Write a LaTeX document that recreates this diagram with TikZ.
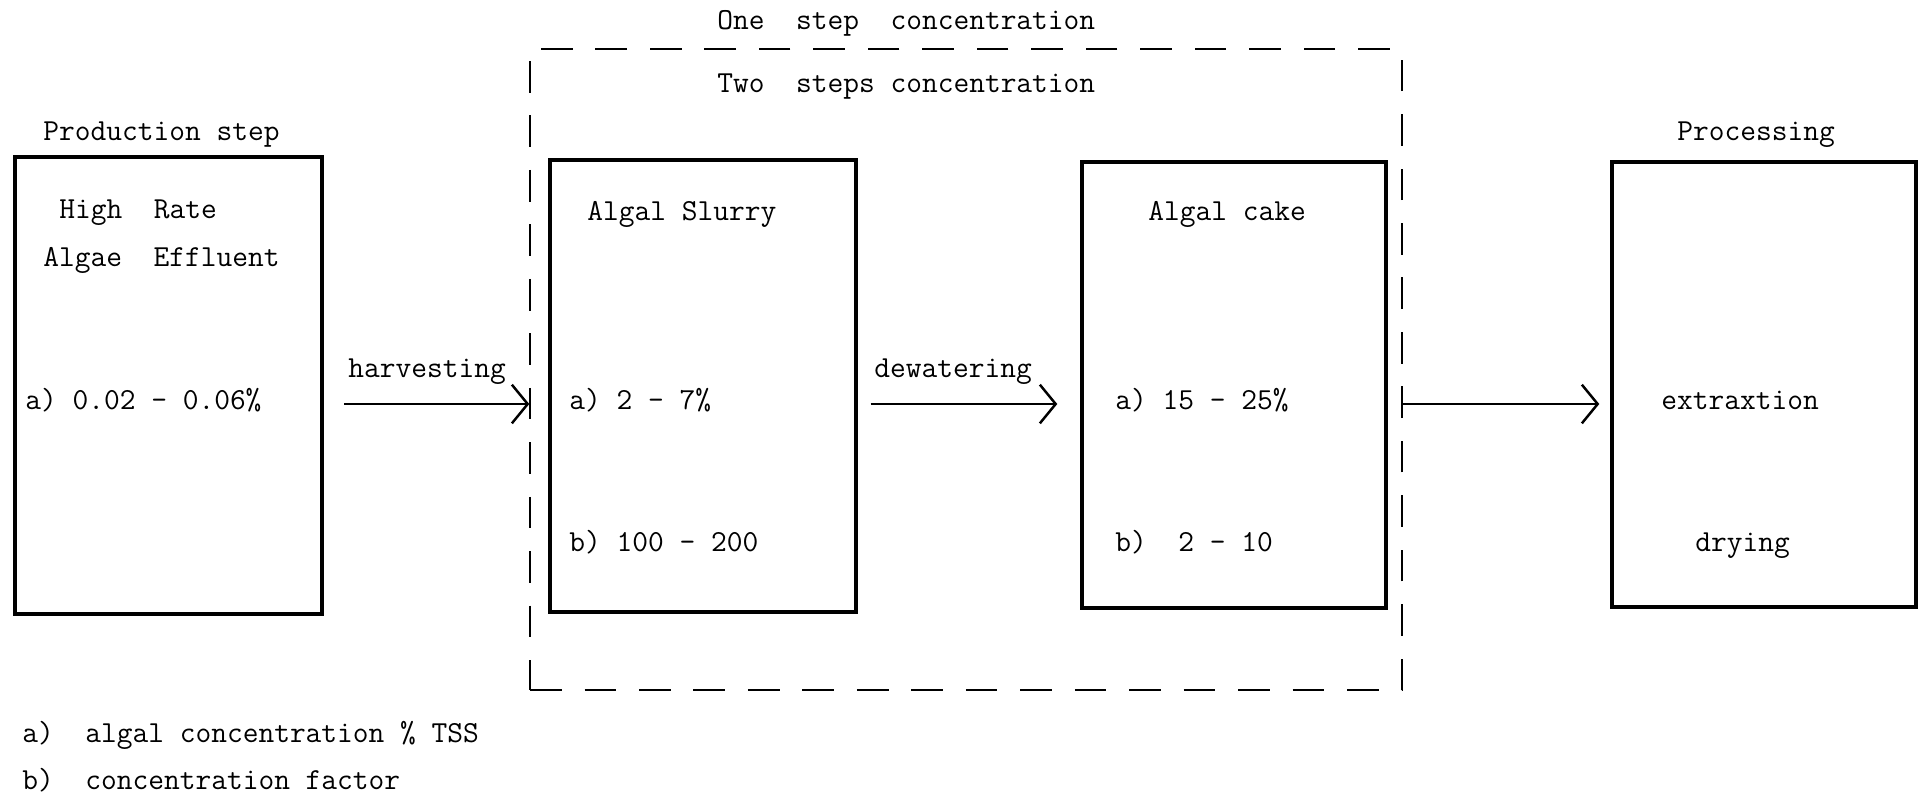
\documentclass[tikz,border=0pt]{standalone}
\usetikzlibrary{arrows.meta}
\begin{document}
\begin{tikzpicture}[x=0.02cm,y=-0.02cm,
  txt/.style={font=\ttfamily\fontsize{17.4}{20}\selectfont, inner sep=0pt, anchor=mid west, yshift=-0.1cm},
  stage/.style={draw, line width=2pt, inner sep=0pt},
  flow/.style={line width=1.6pt, -{Straight Barb[length=9pt,width=22pt,line width=1.4pt]}},
  group/.style={draw, line width=0.9pt, dash pattern=on 18pt off 13pt, inner sep=0pt}]
\useasboundingbox (0,0) rectangle (1926,796);

% stage boxes
\node[stage, minimum width=6.14cm, minimum height=9.14cm] (prod)   at (168.5,385.5) {};
\node[stage, minimum width=6.12cm, minimum height=9.04cm] (slurry) at (703,386) {};
\node[stage, minimum width=6.08cm, minimum height=8.92cm] (cake)   at (1234,385) {};
\node[stage, minimum width=6.08cm, minimum height=8.90cm] (proc)   at (1764,384.5) {};

% concentration group (dashed frame)
\node[group, minimum width=17.44cm, minimum height=12.82cm] (conc) at (966,369.5) {};

% headings
\node[txt] (onestep) at (717,21)  {One\ \ step\ \ concentration};
\node[txt] (twostep) at (717,84)  {Two\ \ steps concentration};
\node[txt] (prodhd)  at (43,132)  {Production step};
\node[txt] (prochd)  at (1677,132) {Processing};

% production box
\node[txt] (hr)  at (59,210)  {High\ \ Rate};
\node[txt] (ae)  at (43,258)  {Algae\ \ Effluent};
\node[txt] (pa)  at (25,401)  {a) 0.02 - 0.06\%};

% algal slurry box
\node[txt] (sl)  at (587,212) {Algal Slurry};
\node[txt] (sa)  at (569,401) {a) 2 - 7\%};
\node[txt] (sb)  at (569,543) {b) 100 - 200};

% algal cake box
\node[txt] (cl)  at (1148,212) {Algal cake};
\node[txt] (ca)  at (1115,401) {a) 15 - 25\%};
\node[txt] (cb)  at (1115,543) {b)\ \ 2 - 10};

% processing box
\node[txt] (ex)  at (1661,401) {extraxtion};
\node[txt] (dr)  at (1695,543) {drying};

% flow arrows
\coordinate (hv) at (344,404);
\draw[flow] (hv) -- (hv -| conc.west);
\node[txt] (harv) at (348,369) {harvesting};
\draw[flow, shorten <=0.26cm, shorten >=0.46cm] (slurry.east |- hv) -- (cake.west |- hv);
\node[txt] (dewa) at (874,369) {dewatering};
\draw[flow, shorten >=0.22cm] (conc.east |- hv) -- (proc.west |- hv);

% legend
\node[txt] (la) at (22,734) {a)\ \ algal concentration \% TSS};
\node[txt] (lb) at (22,781) {b)\ \ concentration factor};
\end{tikzpicture}
\end{document}
